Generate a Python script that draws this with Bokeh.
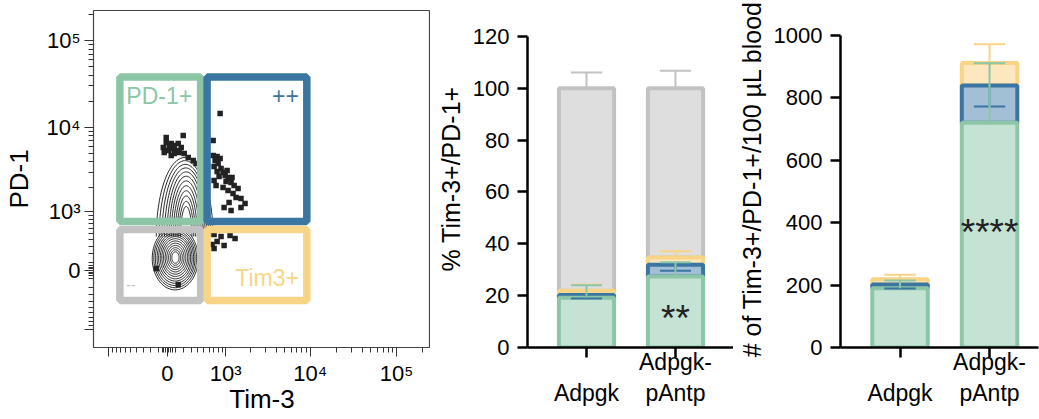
import numpy as np
from bokeh.plotting import figure
from bokeh.layouts import row
from bokeh.models import FixedTicker, Range1d
from bokeh.core.properties import value
from bokeh.embed import file_html
from bokeh.resources import INLINE

FONT = "Liberation Sans"

# ---------------- Panel A : flow plot (biexponential display units) ----------------
def biex(v):
    v = np.asarray(v, dtype=float)
    return np.arcsinh(v / 440.0) / np.log(10)

axis_major_raw = [-1000, 0, 1e3, 1e4, 1e5]
axis_major_labels = ["", "0", "10³", "10⁴", "10⁵"]
axis_minor_raw = ([-s * 100 for s in range(1, 10)] + [-60, -40, -20, 20, 40, 60]
                  + [s * 100 for s in range(1, 10)] + [s * 1000 for s in range(2, 10)]
                  + [s * 10000 for s in range(2, 10)] + [2e5])

# gates (display units)
gate_names = ["PD-1+", "++", "--", "Tim3+"]
gate_x0 = [-0.549, 0.462, -0.549, 0.462]
gate_x1 = [0.387, 1.618, 0.387, 1.618]
gate_y0 = [0.566, 0.566, -0.347, -0.347]
gate_y1 = [2.237, 2.237, 0.474, 0.474]
gate_colors = ["#8CC6A7", "#3B75A1", "#C2C2C2", "#F8D586"]
gate_label_x = [-0.474, 1.526, -0.474, 1.526]
gate_label_y = [2.023, 2.023, -0.162, -0.081]
gate_label_align = ["left", "right", "left", "right"]
gate_label_size = ["23px", "23px", "14px", "23px"]

# contour arches (upper population) and rings (lower population), display units
upper_cx = [0.202, 0.206, 0.210, 0.214, 0.218, 0.220, 0.220, 0.220, 0.220, 0.220, 0.220, 0.220]
upper_w = [0.329, 0.300, 0.272, 0.246, 0.222, 0.198, 0.174, 0.150, 0.128, 0.106, 0.086, 0.066]
upper_top = [1.306, 1.270, 1.228, 1.186, 1.140, 1.090, 1.036, 0.980, 0.922, 0.862, 0.800, 0.740]
upper_base = 0.393
lower_cx = [0.092, 0.092, 0.092, 0.094, 0.094, 0.095, 0.095, 0.095, 0.095, 0.095, 0.095, 0.095, 0.095]
lower_cy = [0.140, 0.141, 0.142, 0.144, 0.146, 0.148, 0.150, 0.150, 0.150, 0.150, 0.150, 0.150, 0.150]
lower_rx = [0.266, 0.248, 0.230, 0.212, 0.194, 0.176, 0.158, 0.140, 0.120, 0.100, 0.080, 0.060, 0.042]
lower_ry = [0.364, 0.340, 0.316, 0.292, 0.268, 0.244, 0.218, 0.192, 0.166, 0.140, 0.114, 0.090, 0.066]

# outlier events (display units)
tim3_d = [-0.012, 0.046, 0.023, 0.081, 0.127, 0.069, 0.012, -0.035, 0.104, 0.162,
          0.185, 0.139, 0.197, 0.243, 0.301, 0.335, 0.081, 0.046, -0.046, -0.012,
          0.613, 0.532, 0.532, 0.578, 0.613, 0.555, 0.590, 0.543, 0.624, 0.647,
          0.671, 0.705, 0.682, 0.740, 0.775, 0.647, 0.705, 0.763, 0.798, 0.855,
          0.717, 0.659, 0.601, 0.578, 0.694, 0.751, 0.821, 0.902, 0.855, 0.740,
          0.543, 0.566,
          0.543, 0.624, 0.728, 0.786, 0.578, 0.659, 0.543, 0.520,
          -0.127, 0.127]
pd1_d = [1.480, 1.468, 1.422, 1.445, 1.468, 1.410, 1.387, 1.364, 1.387, 1.422,
         1.561, 1.364, 1.353, 1.306, 1.272, 1.237, 1.353, 1.329, 1.422, 1.538,
         1.815, 1.503, 1.329, 1.318, 1.295, 1.272, 1.237, 1.202, 1.179, 1.133,
         1.098, 1.075, 1.029, 1.017, 0.983, 0.960, 0.925, 0.890, 0.844, 0.832,
         0.786, 0.728, 1.087, 1.145, 1.156, 1.075, 0.948, 0.775, 0.728, 0.694,
         1.040, 0.983,
         0.416, 0.393, 0.405, 0.370, 0.335, 0.289, 0.254, 0.301,
         0.023, -0.162]

# ---------------- Panels B, C : stacked bars ----------------
cat_pos = [1, 2]
cat_labels = ["\nAdpgk", "Adpgk-\npAntp"]

seg_fill = ["#C5E3D4", "#A3BFD6", "#FCE7BE", "#DEDEDE"]
seg_line = ["#8CC6A7", "#3B75A1", "#F8D586", "#C2C2C2"]
err_dir = [1, -1, 1, 1]

pct_green = [19.2, 27.4]
pct_blue = [1.1, 4.5]
pct_yellow = [1.6, 2.8]
pct_grey = [78.1, 65.3]
pct_sd_green = [4.8, 5.5]
pct_sd_blue = [1.4, 2.3]
pct_sd_yellow = [2.4, 2.4]
pct_sd_grey = [6.1, 6.8]
pct_ticks = [0, 20, 40, 60, 80, 100, 120]

cnt_green = [190, 720]
cnt_blue = [12, 120]
cnt_yellow = [17, 72]
cnt_sd_green = [25, 191]
cnt_sd_blue = [13, 68]
cnt_sd_yellow = [14, 60]
cnt_ticks = [0, 200, 400, 600, 800, 1000]

sig_pct = ["", "**"]
sig_cnt = ["", "****"]

TOP, BOTTOM = 10, 72


def flow_panel():
    p = figure(width=430, height=419, x_range=Range1d(-0.855, 3.052),
               y_range=Range1d(-0.890, 3.006), output_backend="svg",
               toolbar_location=None, min_border_left=92, min_border_right=0,
               min_border_top=TOP, min_border_bottom=BOTTOM)
    p.grid.visible = False
    p.outline_line_color = "#444444"
    p.outline_line_width = 1.2
    maj = [float(t) for t in biex(axis_major_raw)]
    mnr = [float(t) for t in biex(axis_minor_raw)]
    overrides = {m: lab for m, lab in zip(maj, axis_major_labels)}
    for ax in (p.xaxis[0], p.yaxis[0]):
        ax.ticker = FixedTicker(ticks=maj, minor_ticks=mnr)
        ax.major_label_overrides = overrides
        ax.axis_line_color = None
        ax.major_tick_out = 9
        ax.major_tick_in = 0
        ax.minor_tick_out = 5
        ax.minor_tick_in = 0
        ax.major_tick_line_color = "#333333"
        ax.minor_tick_line_color = "#333333"
        ax.major_label_text_font = FONT
        ax.major_label_text_font_size = "22px"
        ax.major_label_text_color = "black"
        ax.major_label_standoff = 4
        ax.axis_label_text_font = FONT
        ax.axis_label_text_font_size = "26px"
        ax.axis_label_text_font_style = "normal"
        ax.axis_label_text_color = "black"
    p.xaxis.axis_label = "Tim-3"
    p.yaxis.axis_label = "PD-1"
    p.xaxis.axis_label_standoff = -5
    p.yaxis.axis_label_standoff = 10

    xs, ys = [], []
    th = np.linspace(0, np.pi, 60)
    for cx, w, top in zip(upper_cx, upper_w, upper_top):
        xs.append(cx + w * np.cos(th))
        ys.append(upper_base + (top - upper_base) * np.sin(th))
    tt = np.linspace(0, 2 * np.pi, 90)
    for cx, cy, rx, ry in zip(lower_cx, lower_cy, lower_rx, lower_ry):
        xs.append(cx + rx * np.cos(tt))
        ys.append(cy + ry * np.sin(tt))
    p.multi_line([list(a) for a in xs], [list(b) for b in ys],
                 line_color="#111111", line_width=0.9)
    p.scatter(tim3_d, pd1_d, marker="square", size=5.5,
              fill_color="#222222", line_color=None)
    p.quad(left=gate_x0, right=gate_x1, bottom=gate_y0, top=gate_y1,
           fill_color=None, line_color=gate_colors, line_width=7.5)
    for i in range(len(gate_names)):
        p.text(x=[gate_label_x[i]], y=[gate_label_y[i]], text=[gate_names[i]],
               text_align=gate_label_align[i], text_baseline="middle",
               text_font=value(FONT), text_font_size=gate_label_size[i],
               text_color=gate_colors[i])
    return p


def bar_panel(width, left, right, x_start, x_end, y_view, y_max, ticks,
              segs, ylabel, sig, sig_y):
    p = figure(width=width, height=419, x_range=Range1d(x_start, x_end),
               y_range=Range1d(0, y_view), output_backend="svg",
               toolbar_location=None, min_border_left=left, min_border_right=right,
               min_border_top=TOP, min_border_bottom=BOTTOM)
    p.grid.visible = False
    p.outline_line_color = None
    pos = np.array(cat_pos, dtype=float)
    base = np.zeros(len(pos))
    stacks = []
    for i, (vals, sds) in enumerate(segs):
        top = base + np.array(vals, dtype=float)
        stacks.append((base.copy(), top, np.array(sds, dtype=float), i))
        base = top
    for b, t, sds, i in reversed(stacks):
        p.vbar(x=pos, width=0.62, bottom=b, top=t, fill_color=seg_fill[i],
               line_color=seg_line[i], line_width=4)
    for b, t, sds, i in reversed(stacks):
        end = t + err_dir[i] * sds
        p.segment(x0=pos, y0=t, x1=pos, y1=end, line_color=seg_line[i], line_width=2)
        p.segment(x0=pos - 0.175, y0=end, x1=pos + 0.175, y1=end,
                  line_color=seg_line[i], line_width=2)
    p.text(x=pos, y=[sig_y] * len(pos), text=sig, text_align="center",
           text_baseline="middle", text_font=value(FONT), text_font_size="37px",
           text_color="#222222")
    for ax in (p.xaxis[0], p.yaxis[0]):
        ax.axis_line_width = 2.5
        ax.axis_line_color = "black"
        ax.major_tick_line_width = 2.5
        ax.major_tick_line_color = "black"
        ax.major_tick_out = 10
        ax.major_tick_in = 0
        ax.minor_tick_out = 0
        ax.minor_tick_in = 0
        ax.major_label_text_font = FONT
        ax.major_label_text_color = "black"
        ax.major_label_standoff = 8
    p.yaxis.major_label_text_font_size = "22px"
    p.xaxis.major_label_text_font_size = "23px"
    p.xaxis.major_label_standoff = -9
    p.yaxis.ticker = FixedTicker(ticks=ticks)
    p.yaxis.bounds = (0, y_max)
    p.xaxis.ticker = FixedTicker(ticks=list(cat_pos))
    p.xaxis.major_label_overrides = {c: lab for c, lab in zip(cat_pos, cat_labels)}
    p.yaxis.axis_label = ylabel
    p.yaxis.axis_label_text_font = FONT
    p.yaxis.axis_label_text_font_size = "25px"
    p.yaxis.axis_label_text_font_style = "normal"
    p.yaxis.axis_label_text_color = "black"
    p.yaxis.axis_label_standoff = 5
    return p


p1 = flow_panel()
p2 = bar_panel(303, 97, 0, 0.337, 2.652, 130.0, 120, pct_ticks,
               [(pct_green, pct_sd_green), (pct_blue, pct_sd_blue),
                (pct_yellow, pct_sd_yellow), (pct_grey, pct_sd_grey)],
               "% Tim-3+/PD-1+", sig_pct, 11.2)
p3 = bar_panel(306, 107, 1, 0.335, 2.547, 1080.0, 1000, cnt_ticks,
               [(cnt_green, cnt_sd_green), (cnt_blue, cnt_sd_blue),
                (cnt_yellow, cnt_sd_yellow)],
               "# of Tim-3+/PD-1+/100 µL blood", sig_cnt, 369)

layout = row(p1, p2, p3)
open("out.html", "w").write(file_html(layout, INLINE))
